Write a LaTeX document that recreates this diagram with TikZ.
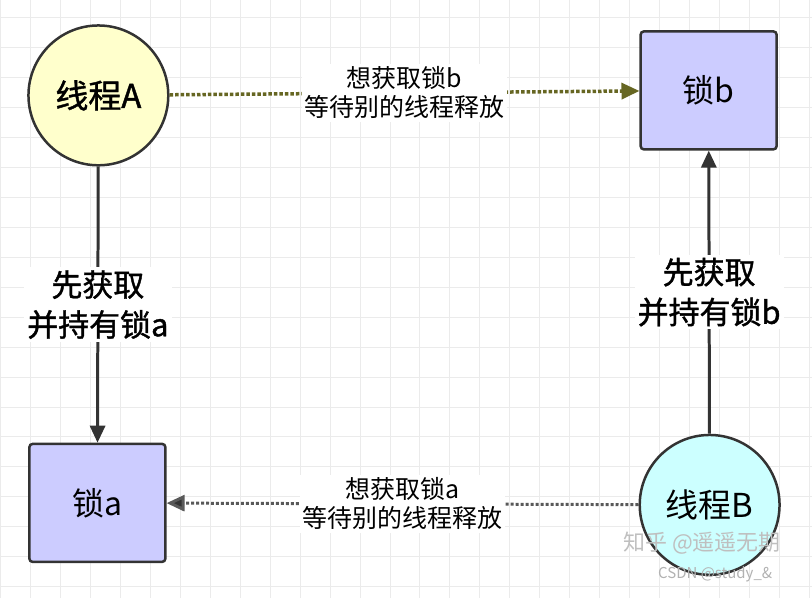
\documentclass[tikz,border=0pt]{standalone}
\usepackage{fontspec}
\setmainfont{Noto Sans CJK SC}
\newfontfamily\medcjk[FakeBold=1.2]{Noto Sans CJK SC}
\usetikzlibrary{arrows.meta}
\begin{document}
\begin{tikzpicture}[x=1pt,y=-1pt,
 thr/.style={circle,draw=black!80,line width=2.5pt,minimum size=140pt,inner sep=0pt,font=\fontsize{33}{36}\selectfont},
 lk/.style={draw=black!80,line width=2.5pt,minimum width=136pt,minimum height=118pt,rounded corners=3pt,font=\fontsize{32}{36}\selectfont},
 lab/.style={fill=white,align=center,font=\fontsize{25}{29}\selectfont,inner sep=3pt},
 big/.style={fill=white,align=center,font=\medcjk\fontsize{31}{40}\selectfont,inner sep=3pt},
 arr/.style={line width=3pt,draw=black!80,-{Triangle[length=17pt,width=15pt]}}]
\fill[white] (0,0) rectangle (812,598);
\foreach \x in {0,30,...,810} \draw[black!8,line width=1pt] (\x,0) -- (\x,598);
\foreach \y in {17,47,...,597} \draw[black!8,line width=1pt] (0,\y) -- (812,\y);
\useasboundingbox (0,0) rectangle (812,598);
\node[thr,fill={rgb,255:red,255;green,255;blue,204},font=\medcjk\fontsize{33}{36}\selectfont] (A) at (98,95) {线程A};
\node[thr,fill={rgb,255:red,204;green,255;blue,255}] (B) at (710,505) {线程B};
\node[lk,fill={rgb,255:red,204;green,204;blue,255}] (lb) at (709,90) {锁b};
\node[lk,fill={rgb,255:red,204;green,204;blue,255}] (la) at (97,503) {锁a};
\draw[line width=3.5pt,dotted,draw={rgb,255:red,102;green,102;blue,34},-{Triangle[length=18pt,width=16pt,fill={rgb,255:red,102;green,102;blue,34}]}] (A) -- (lb)
 node[midway,lab] {想获取锁b\\等待别的线程释放};
\draw[line width=3pt,dotted,draw=black!65,-{Triangle[length=18pt,width=16pt,fill=black!80]}] (B) -- (la)
 node[midway,lab] (tl) {想获取锁a\\等待别的线程释放};
\draw[arr] (A) -- (la) node[pos=0.5,big] {先获取\\并持有锁a};
\draw[arr] (B) -- (lb) node[pos=0.5,big] {先获取\\并持有锁b};
\node[text=black!25,font=\fontsize{22}{24}\selectfont,anchor=west] (w1) at (620,543) {知乎 @遥遥无期};
\node[text=black!30,font=\fontsize{15}{18}\selectfont,anchor=west] (w2) at (655,574) {CSDN @study\_\&};
\end{tikzpicture}
\end{document}
